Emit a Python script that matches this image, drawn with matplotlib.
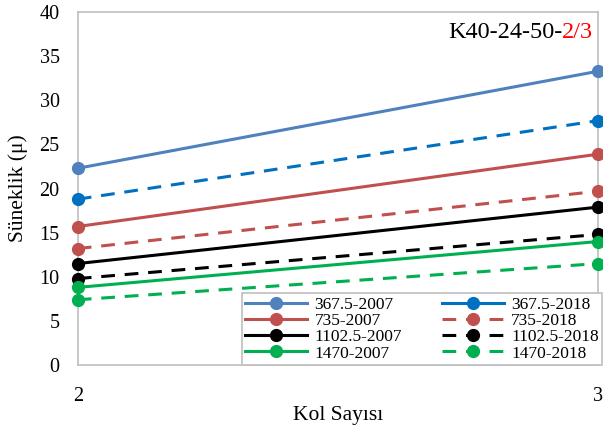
import matplotlib
matplotlib.use("Agg")
import matplotlib.pyplot as plt
from matplotlib.lines import Line2D

plt.rcParams['font.family'] = ['Liberation Serif', 'DejaVu Serif']

kol_sayisi = [2, 3]
series_names = ["367.5-2007", "367.5-2018", "735-2007", "735-2018",
                "1102.5-2007", "1102.5-2018", "1470-2007", "1470-2018"]
v_367_2007 = [22.3, 33.3]
v_367_2018 = [18.8, 27.7]
v_735_2007 = [15.7, 23.9]
v_735_2018 = [13.2, 19.7]
v_1102_2007 = [11.5, 17.9]
v_1102_2018 = [9.8, 14.8]
v_1470_2007 = [8.8, 14.0]
v_1470_2018 = [7.4, 11.5]
series_values = [v_367_2007, v_367_2018, v_735_2007, v_735_2018,
                 v_1102_2007, v_1102_2018, v_1470_2007, v_1470_2018]

colors = ["#4F81BD", "#0070C0", "#C0504D", "#C0504D",
          "#000000", "#000000", "#00B050", "#00B050"]
styles = ["-", "--", "-", "--", "-", "--", "-", "--"]
# the legend sample for 367.5-2018 is drawn solid
legend_styles = ["-", "-", "-", "--", "-", "--", "-", "--"]

fig = plt.figure(figsize=(6.03, 4.32), dpi=100)
ax = fig.add_axes([0.129, 0.155, 0.863, 0.817])

dash = (4.5, 3.2)
for vals, c, ls in zip(series_values, colors, styles):
    kw = dict(dashes=dash) if ls == "--" else {}
    ax.plot(kol_sayisi, vals, color=c, linestyle=ls, linewidth=2.2,
            marker="o", markersize=8.5, clip_on=False, zorder=3, **kw)

ax.set_xlim(2, 3)
ax.set_ylim(0, 40)
ax.set_xticks([2, 3])
ax.set_yticks(range(0, 41, 5))
ax.tick_params(length=0, labelsize=14.5)
ax.tick_params(axis="y", pad=13)
ax.tick_params(axis="x", pad=16)
for s in ax.spines.values():
    s.set_color("#BFBFBF")
    s.set_linewidth(1.2)

ax.set_xlabel("Kol Sayısı", fontsize=15.5, labelpad=0)
ax.set_ylabel("Süneklik (μ)", fontsize=15.5, labelpad=8)

t1 = fig.text(0.743, 0.924, "K40-24-50-", fontsize=17.5, va="center", ha="left")
ax.annotate("2/3", xy=(1, 0), xycoords=t1, va="bottom", ha="left",
            fontsize=17.5, color="red")

handles = []
for name, c, ls in zip(series_names, colors, legend_styles):
    kw = dict(dashes=dash) if ls == "--" else {}
    handles.append(Line2D([], [], color=c, linestyle=ls, linewidth=2.2,
                          marker="o", markersize=8.5, label=name, **kw))
order = [0, 2, 4, 6, 1, 3, 5, 7]
leg = fig.legend([handles[i] for i in order], [series_names[i] for i in order],
                 ncol=2, loc="lower right", bbox_to_anchor=(0.999, 0.155),
                 fontsize=12.5, frameon=True, fancybox=False, framealpha=1,
                 edgecolor="#BFBFBF", handlelength=3.6, handletextpad=0.4,
                 columnspacing=2.3, labelspacing=0.0, borderpad=0.2,
                 borderaxespad=0, numpoints=1)
leg.get_frame().set_linewidth(1.2)
leg.set_zorder(5)

fig.savefig("out.png", dpi=100)
